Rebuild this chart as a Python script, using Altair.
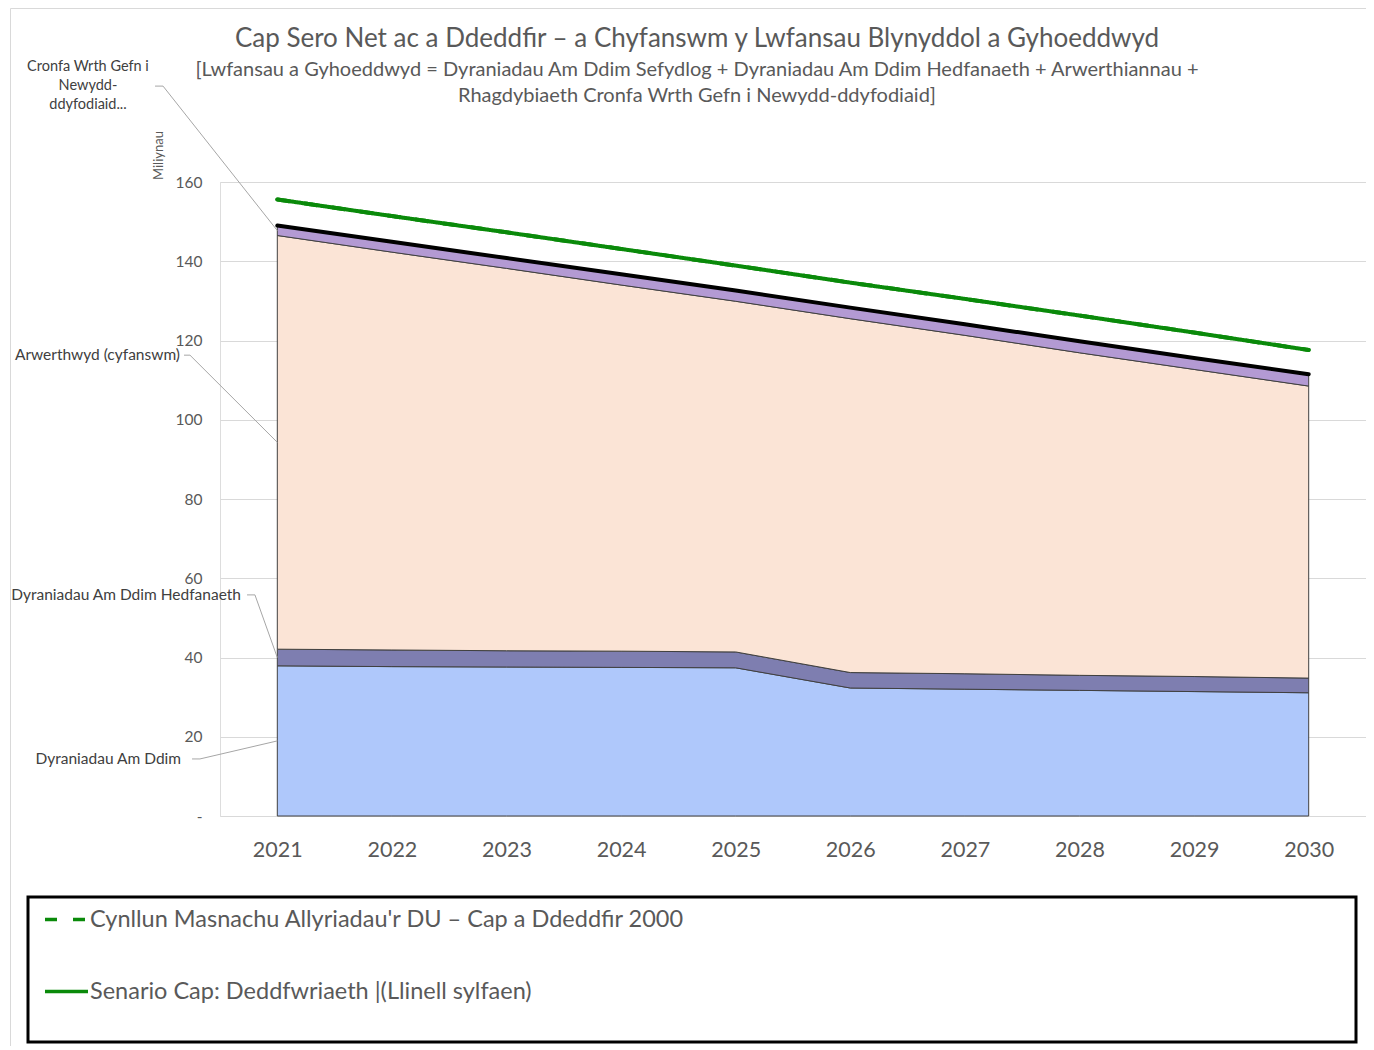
import altair as alt
import pandas as pd

# ---------------- data ----------------
years = [2021, 2022, 2023, 2024, 2025, 2026, 2027, 2028, 2029, 2030]
free_alloc = [37.9, 37.7, 37.6, 37.5, 37.4, 32.3, 32.0, 31.7, 31.4, 31.1]
aviation = [4.2, 4.2, 4.1, 4.1, 4.0, 3.9, 3.9, 3.8, 3.8, 3.7]
auctioned = [104.4, 100.4, 96.5, 92.4, 88.5, 89.3, 85.4, 81.4, 77.5, 73.7]
reserve = [2.5, 2.6, 2.6, 2.7, 2.7, 2.8, 2.8, 2.9, 2.9, 3.0]
cap_baseline = [155.6, 151.4, 147.3, 143.1, 138.9, 134.6, 130.5, 126.3, 122.0, 117.6]
cap_2000 = [155.6, 151.4, 147.3, 143.1, 138.9, 134.6, 130.5, 126.3, 122.0, 117.6]

comp_names = ["Dyraniadau Am Ddim", "Dyraniadau Am Ddim Hedfanaeth",
              "Arwerthwyd (cyfanswm)", "Cronfa Wrth Gefn i Newydd-ddyfodiaid"]
comp_colors = ["#AFC8FB", "#7E7EB0", "#FBE4D6", "#B39AD3"]
series_names = ["Cynllun Masnachu Allyriadau'r DU \u2013 Cap a Ddeddfir 2000",
                "Senario Cap: Deddfwriaeth |(Llinell sylfaen)"]
GREEN = "#0A8A0A"
FONT = "Lato"
GREY = "#595959"

title_text = "Cap Sero Net ac a Ddeddfir \u2013 a Chyfanswm y Lwfansau Blynyddol a Gyhoeddwyd"
subtitle_lines = ["[Lwfansau a Gyhoeddwyd = Dyraniadau Am Ddim Sefydlog + Dyraniadau Am Ddim Hedfanaeth + Arwerthiannau +",
                  "Rhagdybiaeth Cronfa Wrth Gefn i Newydd-ddyfodiaid]"]

# ---------------- tables ----------------
rows = []
for i, y in enumerate(years):
    for k, (name, vals) in enumerate(zip(comp_names, [free_alloc, aviation, auctioned, reserve])):
        rows.append({"year": y, "component": name, "value": vals[i], "idx": k})
df_area = pd.DataFrame(rows)

df_total = pd.DataFrame({"year": years,
                         "total": [a + b + c + d for a, b, c, d in zip(free_alloc, aviation, auctioned, reserve)]})

df_lines = pd.DataFrame(
    [{"year": y, "series": series_names[0], "cap": v} for y, v in zip(years, cap_2000)] +
    [{"year": y, "series": series_names[1], "cap": v} for y, v in zip(years, cap_baseline)]
)

# annotation labels with leader lines (label position in data units, anchor at 2021 band middle)
i0 = 0
anchor_vals = [
    free_alloc[i0] + aviation[i0] + auctioned[i0] + reserve[i0] / 2,
    free_alloc[i0] + aviation[i0] + auctioned[i0] / 2,
    free_alloc[i0] + aviation[i0] / 2,
    free_alloc[i0] / 2,
]
ann_text = ["Cronfa Wrth Gefn i\nNewydd-\nddyfodiaid...", "Arwerthwyd (cyfanswm)",
            "Dyraniadau Am Ddim Hedfanaeth", "Dyraniadau Am Ddim"]
ann_x = [2019.348, 2020.151, 2020.683, 2020.160]
ann_text_y = [189.0, 116.3, 55.8, 14.4]
ann_y = [184.2, 116.3, 55.8, 14.4]
tick_x0 = [2019.933, 2020.186, 2020.736, 2020.256]
tick_x1 = [2020.003, 2020.238, 2020.805, 2020.325]

df_ann = pd.DataFrame({"text": ann_text, "x": ann_x, "y": ann_text_y})
df_tick = pd.DataFrame({"x0": tick_x0, "x1": tick_x1, "y": ann_y})
df_lead = pd.DataFrame({"x0": tick_x1, "y0": ann_y, "x1": [2021] * 4, "y1": anchor_vals})

# ---------------- scales / axes ----------------
xscale = alt.Scale(domain=[2020.5, 2030.5], nice=False, zero=False)
yscale = alt.Scale(domain=[0, 160], nice=False)
xaxis = alt.Axis(values=years, format="d", grid=False, ticks=False, domain=False,
                 labelFontSize=21.5, labelColor=GREY, labelFont=FONT, labelPadding=23, title=None)
yaxis = alt.Axis(values=list(range(0, 161, 20)), grid=True, gridColor="#D9D9D9", ticks=False,
                 domain=False, labelFontSize=15.5, labelColor=GREY, labelFont=FONT, labelPadding=18,
                 labelExpr="datum.value == 0 ? '-' : datum.label",
                 title="Miliynau", titleFont=FONT, titleFontSize=13, titleFontWeight="normal",
                 titleColor=GREY, titleAngle=270, titleX=-62, titleY=-27,
                 titleAlign="center", titleBaseline="middle")


def X(field):
    return alt.X(field, type="quantitative", scale=xscale, axis=xaxis, title=None)


def Y(field, **kw):
    return alt.Y(field, type="quantitative", scale=yscale, axis=yaxis, title="Miliynau", **kw)


areas = alt.Chart(df_area).mark_area(stroke="#404040", strokeWidth=1, interpolate="linear").encode(
    x=X("year"),
    y=Y("value", stack="zero"),
    color=alt.Color("component:N", scale=alt.Scale(domain=comp_names, range=comp_colors), legend=None),
    order=alt.Order("idx:Q", sort="ascending"),
)

total_line = alt.Chart(df_total).mark_line(color="black", strokeWidth=4, strokeCap="round").encode(
    x=X("year"), y=Y("total"))

leg = dict(orient="none", legendX=-177, legendY=714, title=None, symbolType="stroke",
           symbolSize=1849, symbolStrokeWidth=3.5, labelFontSize=23.5, labelFont=FONT,
           labelColor=GREY, labelOffset=0, rowPadding=37, labelLimit=1000, padding=0)
green_lines = alt.Chart(df_lines).mark_line(strokeWidth=4, strokeCap="round").encode(
    x=X("year"), y=Y("cap"),
    color=alt.Color("series:N", scale=alt.Scale(domain=series_names, range=[GREEN, GREEN]),
                    legend=alt.Legend(**leg)),
    strokeDash=alt.StrokeDash("series:N", scale=alt.Scale(domain=series_names, range=[[12, 16], [1, 0]]),
                              legend=alt.Legend(**leg)),
)

ticks = alt.Chart(df_tick).mark_rule(color="#A6A6A6", strokeWidth=1).encode(
    x=X("x0"), x2="x1", y=Y("y"))
leads = alt.Chart(df_lead).mark_rule(color="#A6A6A6", strokeWidth=1).encode(
    x=X("x0"), x2="x1", y=Y("y0"), y2="y1")

ann_center = alt.Chart(df_ann.iloc[:1]).mark_text(
    align="center", baseline="middle", fontSize=14.5, font=FONT, color="#404040",
    lineBreak="\n", lineHeight=19).encode(x=X("x"), y=Y("y"), text="text:N")
ann_right = alt.Chart(df_ann.iloc[1:]).mark_text(
    align="right", baseline="middle", fontSize=15.5, font=FONT, color="#404040").encode(
    x=X("x"), y=Y("y"), text="text:N")

one = pd.DataFrame({"a": [0]})
legend_frame = alt.Chart(one).mark_rect(fill=None, stroke="black", strokeWidth=3).encode(
    x=alt.value(-192), x2=alt.value(1136), y=alt.value(715), y2=alt.value(860))
outer_frame = alt.Chart(one).mark_rect(fill=None, stroke="#D9D9D9", strokeWidth=1).encode(
    x=alt.value(-209.5), x2=alt.value(1300), y=alt.value(-173.5), y2=alt.value(1000))

title_mark = alt.Chart(one).mark_text(
    text=title_text, align="center", baseline="middle", fontSize=26, font=FONT, color=GREY).encode(
    x=alt.value(477), y=alt.value(-143))
sub1 = alt.Chart(one).mark_text(
    text=subtitle_lines[0], align="center", baseline="middle", fontSize=20, font=FONT, color=GREY).encode(
    x=alt.value(477), y=alt.value(-112))
sub2 = alt.Chart(one).mark_text(
    text=subtitle_lines[1], align="center", baseline="middle", fontSize=20, font=FONT, color=GREY).encode(
    x=alt.value(477), y=alt.value(-86))

chart = alt.layer(
    outer_frame, areas, ticks, leads, total_line, green_lines, ann_center, ann_right, legend_frame,
    title_mark, sub1, sub2
).resolve_scale(color="independent", strokeDash="independent").properties(
    width=1146, height=634,
    autosize=alt.AutoSizeParams(type="none"),
    padding={"left": 212, "top": 174, "right": 0, "bottom": 230},
).configure_view(stroke=None).configure(background="white")

chart.save("out.html", embed_options={"renderer": "svg", "actions": False})
